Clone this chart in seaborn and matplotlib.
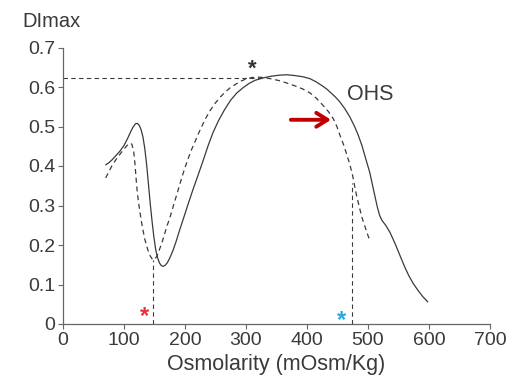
import matplotlib
matplotlib.use("Agg")
import matplotlib.pyplot as plt
import seaborn as sns
import pandas as pd

# Solid curve (OHS)
solid_x = [70, 75, 80, 86, 93, 100, 106, 111, 115, 119, 122, 125, 128, 131, 134, 137, 140, 143, 146, 149, 152, 155, 158,
           161, 164, 167, 171, 175, 180, 185, 190, 197, 205, 213, 221, 230, 238, 246, 255, 265, 275, 285, 295, 305, 315,
           328, 340, 355, 367, 380, 393, 405, 415, 425, 433, 440, 447, 454, 462, 470, 478, 484, 490, 496, 503, 509, 515,
           519, 523, 529, 536, 544, 552, 560, 567, 574, 582, 590, 598]
solid_y = [0.403, 0.408, 0.415, 0.425, 0.437, 0.452, 0.470, 0.487, 0.499, 0.507, 0.508, 0.503, 0.492, 0.474, 0.445, 0.405,
           0.355, 0.305, 0.260, 0.220, 0.188, 0.168, 0.155, 0.148, 0.146, 0.148, 0.155, 0.167, 0.185, 0.207, 0.232, 0.265,
           0.303, 0.340, 0.375, 0.415, 0.452, 0.485, 0.515, 0.543, 0.567, 0.585, 0.598, 0.609, 0.617, 0.623, 0.627, 0.630,
           0.631, 0.629, 0.626, 0.621, 0.613, 0.603, 0.594, 0.584, 0.574, 0.562, 0.545, 0.525, 0.500, 0.478, 0.452, 0.420,
           0.383, 0.340, 0.298, 0.275, 0.262, 0.250, 0.232, 0.205, 0.175, 0.145, 0.122, 0.103, 0.085, 0.069, 0.056]

# Dashed curve
dash_x = [70, 75, 80, 85, 90, 95, 100, 105, 110, 113, 116, 118, 120, 122, 125, 129, 134, 139, 143, 147, 150, 154, 158, 162,
          166, 170, 175, 179, 183, 187, 191, 195, 200, 205, 210, 216, 222, 228, 233, 241, 249, 257, 265, 274, 283, 292,
          301, 310, 320, 328, 340, 355, 367, 380, 393, 405, 415, 426, 435, 443, 449, 454, 459, 464, 469, 474, 478, 482,
          486, 490, 495, 499, 503]
dash_y = [0.370, 0.385, 0.400, 0.412, 0.423, 0.433, 0.443, 0.452, 0.458, 0.455, 0.436, 0.405, 0.365, 0.330, 0.295, 0.255,
          0.215, 0.188, 0.172, 0.163, 0.163, 0.172, 0.188, 0.205, 0.225, 0.246, 0.268, 0.289, 0.310, 0.330, 0.351, 0.372,
          0.396, 0.418, 0.439, 0.460, 0.482, 0.502, 0.518, 0.540, 0.558, 0.573, 0.586, 0.598, 0.607, 0.615, 0.621, 0.624,
          0.625, 0.624, 0.621, 0.616, 0.610, 0.603, 0.595, 0.585, 0.572, 0.554, 0.538, 0.520, 0.500, 0.478, 0.458, 0.435,
          0.410, 0.382, 0.350, 0.320, 0.295, 0.270, 0.247, 0.228, 0.212]

ref_h_y = 0.624          # horizontal dashed reference level
ref_h_xend = 330
vline_x = [148, 474]     # vertical dashed lines
vline_top = [0.162, 0.357]

x_ticks = [0, 100, 200, 300, 400, 500, 600, 700]
y_ticks = [0, 0.1, 0.2, 0.3, 0.4, 0.5, 0.6, 0.7]
y_ticklabels = ["0", "0.1", "0.2", "0.3", "0.4", "0.5", "0.6", "0.7"]

sns.set_style("ticks")
plt.rcParams['font.family'] = ['Liberation Sans', 'DejaVu Sans']

fig = plt.figure(figsize=(5.13, 3.89), dpi=100)
ax = fig.add_axes([63/513, 65/389, 427/513, 276.5/389])

txt = "#3a3a3a"
axc = "#666666"
lc = "#3a3a3a"

df_s = pd.DataFrame({"x": solid_x, "y": solid_y})
df_d = pd.DataFrame({"x": dash_x, "y": dash_y})
sns.lineplot(data=df_s, x="x", y="y", sort=False, estimator=None, ax=ax, color=lc, linewidth=0.9)
sns.lineplot(data=df_d, x="x", y="y", sort=False, estimator=None, ax=ax, color=lc, linewidth=0.9,
             linestyle=(0, (4, 3)))

ax.plot([0, ref_h_xend], [ref_h_y, ref_h_y], color=lc, linewidth=0.8, linestyle=(0, (4, 3)))
for vx, vt in zip(vline_x, vline_top):
    ax.plot([vx, vx], [0, vt], color=lc, linewidth=0.8, linestyle=(0, (4, 3)))

ax.set_xlim(0, 700)
ax.set_ylim(0, 0.7)
ax.set_xticks(x_ticks)
ax.set_yticks(y_ticks)
ax.set_yticklabels(y_ticklabels)
ax.tick_params(axis="both", labelsize=14, colors=axc, labelcolor=txt, length=3.5, width=0.8, pad=2)
for s in ["top", "right"]:
    ax.spines[s].set_visible(False)
for s in ["left", "bottom"]:
    ax.spines[s].set_color(axc)
    ax.spines[s].set_linewidth(0.9)

ax.set_xlabel("Osmolarity (mOsm/Kg)", fontsize=15.5, color=txt, labelpad=4)
ax.set_ylabel("")
fig.text(22/513, 1 - 12/389, "DImax", fontsize=14.5, color=txt, ha="left", va="top")

ax.text(465, 0.58, "OHS", fontsize=15.5, color=txt, ha="left", va="center")
ax.text(311, 0.645, "*", fontsize=16, color="#333333", ha="center", va="center", fontweight="bold")
ax.text(134, 0.020, "*", fontsize=17, color="#e8303a", ha="center", va="center", fontweight="bold")
ax.text(457, 0.008, "*", fontsize=17, color="#29a8e0", ha="center", va="center", fontweight="bold")

ax.annotate("", xy=(444, 0.517), xytext=(369, 0.517),
            arrowprops=dict(arrowstyle="->, head_length=0.8, head_width=0.5", color="#c00000", lw=2.8))

fig.savefig("out.png", dpi=100)
